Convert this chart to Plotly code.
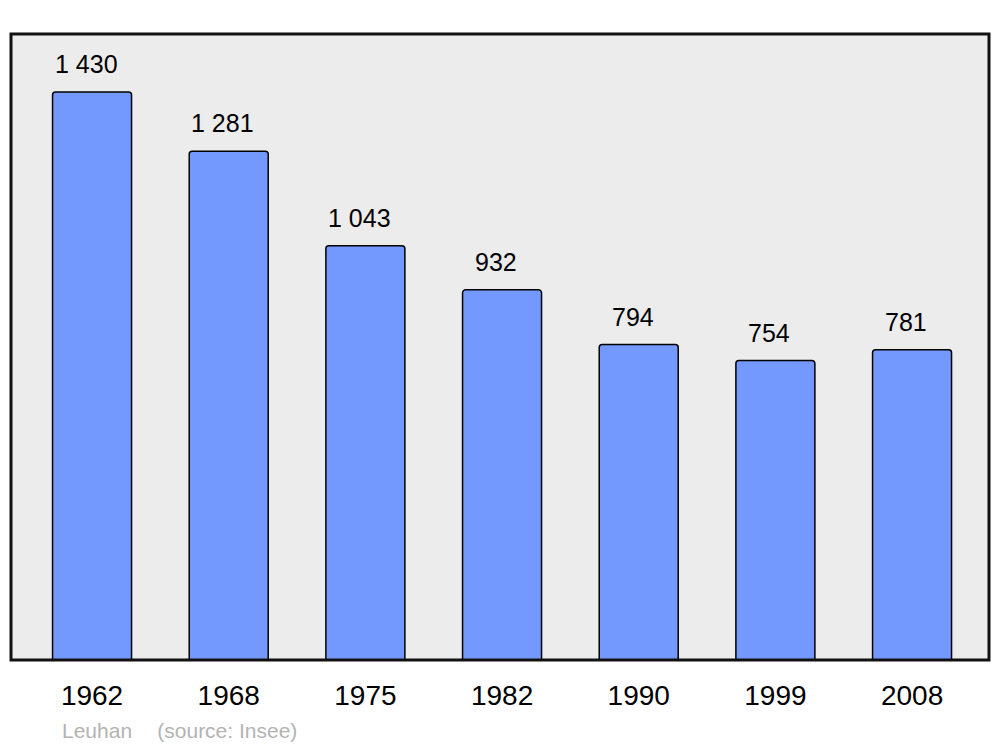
import plotly.graph_objects as go

years = ["1962", "1968", "1975", "1982", "1990", "1999", "2008"]
population = [1430, 1281, 1043, 932, 794, 754, 781]
value_labels = ["1 430", "1 281", "1 043", "932", "794", "754", "781"]
footer_text = "Leuhan\u2003\u2009(source: Insee)"

FONT = "Liberation Sans, Arial, sans-serif"
xs = list(range(len(years)))

fig = go.Figure()
fig.add_trace(go.Bar(
    x=xs, y=population, width=0.578,
    marker=dict(color="#7399ff", line=dict(color="#000000", width=1.5)),
    hoverinfo="skip",
))

for x, v, lab in zip(xs, population, value_labels):
    fig.add_annotation(x=x, y=v, text=lab, showarrow=False, yshift=28, xshift=-6,
                       font=dict(family=FONT, size=25, color="#000000"))

fig.add_annotation(xref="paper", yref="paper", x=(60 - 11) / 978, y=-(730 - 660) / 626,
                   xanchor="left", yanchor="middle", showarrow=False, text=footer_text,
                   font=dict(family=FONT, size=21, color="#b3b3b3"))

fig.add_shape(type="rect", xref="paper", yref="paper", x0=0, y0=0, x1=1, y1=1,
              line=dict(color="#111111", width=3), layer="above")

fig.update_layout(
    width=992, height=739,
    margin=dict(l=3, r=11, t=26, b=87),
    paper_bgcolor="#ffffff", plot_bgcolor="#ececec",
    barcornerradius=3,
    showlegend=False,
    xaxis=dict(range=[-0.593, 6.563], tickmode="array", tickvals=xs, ticktext=years,
               showgrid=False, zeroline=False, ticks="", ticklabelstandoff=16,
               tickfont=dict(family=FONT, size=28, color="#000000")),
    yaxis=dict(range=[0, 1576], showgrid=False, zeroline=False, showticklabels=False, ticks=""),
)

fig.write_html("out.html")
